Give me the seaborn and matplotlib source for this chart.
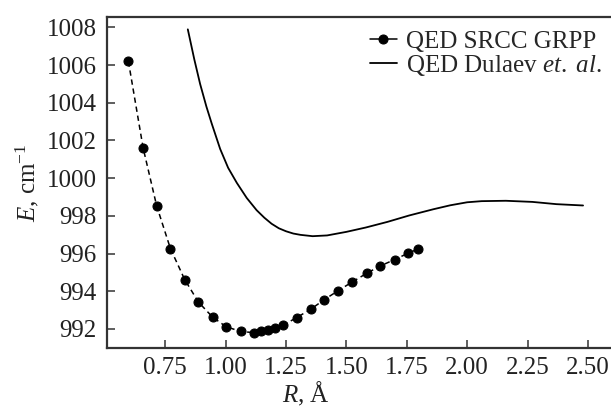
import numpy as np
import matplotlib
matplotlib.use("Agg")
import matplotlib.pyplot as plt
import seaborn as sns
import pandas as pd

# QED SRCC GRPP points (R in Angstrom, E in cm^-1)
r_srcc = [0.597, 0.658, 0.714, 0.771, 0.830, 0.887, 0.946, 1.001, 1.062, 1.117,
          1.146, 1.175, 1.204, 1.236, 1.294, 1.352, 1.407, 1.466, 1.524, 1.584,
          1.640, 1.700, 1.756, 1.797]
e_srcc = [1006.2, 1001.6, 998.53, 996.26, 994.62, 993.42, 992.62, 992.12, 991.86, 991.80,
          991.86, 991.95, 992.04, 992.18, 992.60, 993.04, 993.54, 994.03, 994.49, 994.95,
          995.34, 995.68, 996.02, 996.24]

# QED Dulaev et al. curve
r_dul = [0.843, 0.870, 0.894, 0.920, 0.942, 0.977, 1.010, 1.046, 1.087, 1.128,
         1.160, 1.190, 1.220, 1.250, 1.280, 1.310, 1.36, 1.42, 1.50, 1.58,
         1.67, 1.76, 1.86, 1.93, 2.00, 2.06, 2.16, 2.27, 2.37, 2.48]
e_dul = [1007.9, 1006.3, 1005.0, 1003.8, 1002.9, 1001.55, 1000.55, 999.75, 998.95, 998.3,
         997.9, 997.58, 997.34, 997.18, 997.06, 996.99, 996.92, 996.96, 997.15, 997.38,
         997.68, 998.02, 998.35, 998.56, 998.72, 998.78, 998.80, 998.74, 998.62, 998.55]

xticks = [0.75, 1.00, 1.25, 1.50, 1.75, 2.00, 2.25, 2.50]
yticks = [992, 994, 996, 998, 1000, 1002, 1004, 1006, 1008]

sns.set_style("ticks")
plt.rcParams['font.family'] = ['Liberation Serif', 'DejaVu Serif']
plt.rcParams['mathtext.fontset'] = 'custom'
plt.rcParams['mathtext.rm'] = 'Liberation Serif'
plt.rcParams['mathtext.it'] = 'Liberation Serif:italic'

fig = plt.figure(figsize=(6.11, 4.08), dpi=100)
ax = fig.add_axes([0.1746, 0.1478, 0.835, 0.8098])

df1 = pd.DataFrame({'R': r_srcc, 'E': e_srcc})
df2 = pd.DataFrame({'R': r_dul, 'E': e_dul})

sns.lineplot(data=df1, x='R', y='E', ax=ax, color='black', linestyle=(0, (3.5, 2.5)),
             linewidth=1.1, marker='o', markersize=6.5, markeredgecolor='black',
             label='QED SRCC GRPP')
sns.lineplot(data=df2, x='R', y='E', ax=ax, color='black', linewidth=1.3,
             label=r'QED Dulaev $et.\ al$.')

ax.set_xlim(0.507, 2.62)
ax.set_ylim(991.0, 1008.54)
ax.set_xticks(xticks)
ax.set_yticks(yticks)
ax.set_xticklabels([f"{t:.2f}" for t in xticks])

for s in ax.spines.values():
    s.set_linewidth(1.6)
    s.set_color('#333333')
ax.tick_params(direction='in', length=6, width=1.1, color='#333333',
               labelsize=18, pad=7, labelcolor='#222222')

ax.set_xlabel(r'$R$, Å', fontsize=18, labelpad=0, color='#222222')
ax.xaxis.label.set_x(0.39)
ax.set_ylabel(r'$E$, cm$^{-1}$', fontsize=18, labelpad=4, color='#222222')

leg = ax.legend(loc='upper right', bbox_to_anchor=(0.985, 0.925),
                bbox_transform=fig.transFigure, frameon=False, fontsize=18,
                handlelength=1.1, handletextpad=0.35, labelspacing=0.0,
                borderpad=0, borderaxespad=0)
# legend handle for the dotted series is drawn solid in the reference
leg.get_lines()[0].set_linestyle('-')

fig.savefig("out.png", dpi=100)
